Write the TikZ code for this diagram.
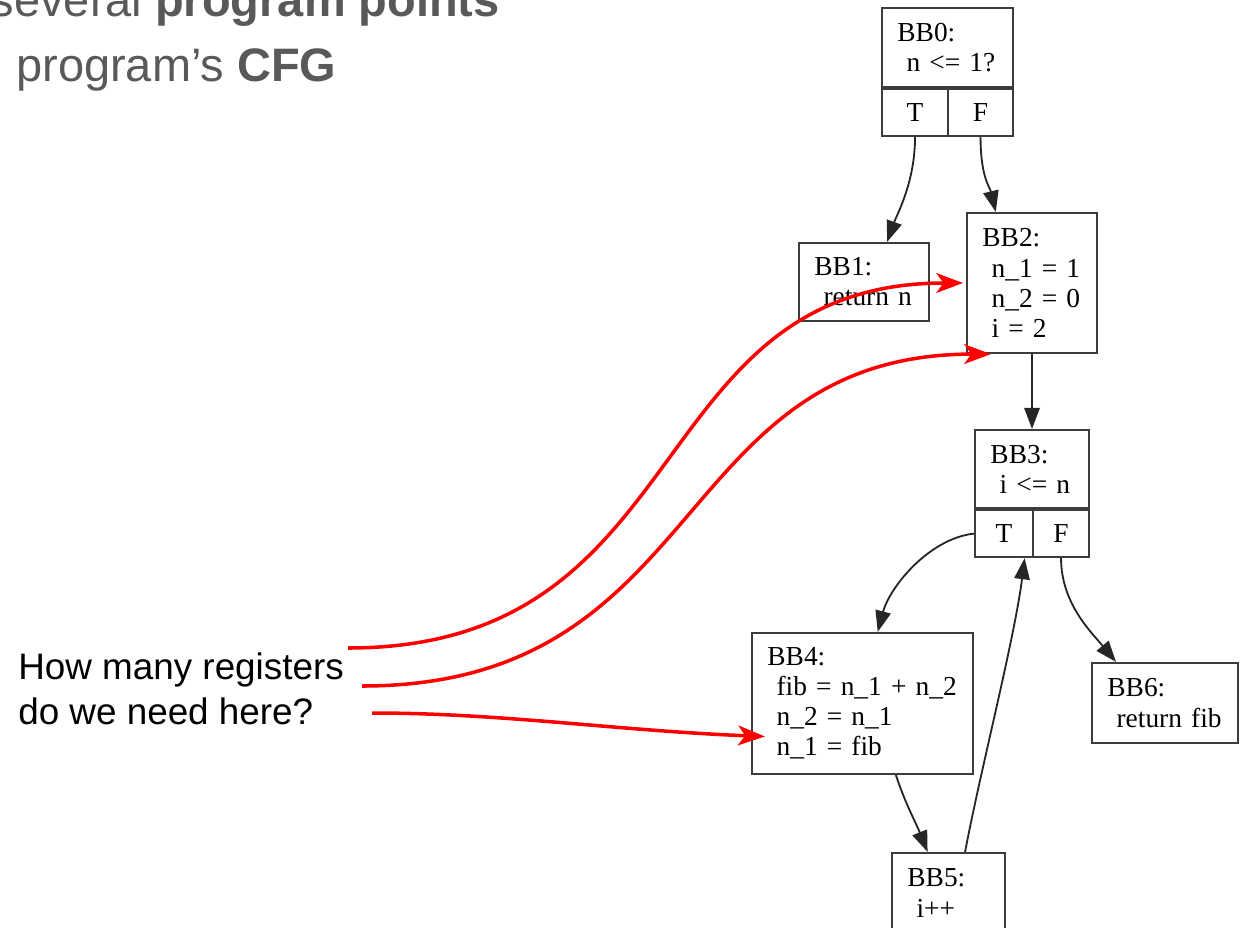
\documentclass[tikz,border=0pt]{standalone}
\usepackage{fontspec}
\setmainfont{Liberation Sans}
\newfontfamily\dotfont{Liberation Serif}
\usepackage{tikz}
\usetikzlibrary{arrows.meta,positioning,calc}
\definecolor{slidegray}{RGB}{89,89,89}
\definecolor{boxgray}{RGB}{60,60,60}
\newcommand{\bbfont}{\dotfont\fontsize{19.5}{21.4}\selectfont}
\tikzstyle{block} = [draw=boxgray, rectangle, line width=1.5pt, align=left,
    inner xsep=11pt, inner ysep=0pt, font=\bbfont, text=black]
\tikzstyle{cell} = [draw=boxgray, rectangle, line width=1.5pt, minimum height=33.4pt,
    inner sep=0pt, font=\bbfont, text=black]
\tikzstyle{edge} = [draw=black!85, line width=1.3pt, -{Triangle[length=15pt,width=11pt]}]
\tikzstyle{hint} = [draw=red, line width=2.5pt, -{Stealth[length=19pt,width=14pt,inset=5pt]}]

\begin{document}
\begin{tikzpicture}[x=0.025cm, y=-0.025cm]
    \useasboundingbox (0,0) rectangle (1241,927);
    % slide text
    \node [anchor=base east, inner sep=0, text=slidegray, font=\fontsize{33.4}{40}\selectfont] (title1) at (500,16) {several \textbf{program points}};
    \node [anchor=base west, inner sep=0, text=slidegray, font=\fontsize{33.4}{40}\selectfont] (title2) at (16,81) {program’s \textbf{CFG}};
    \node [anchor=north west, inner sep=0, align=left, font=\fontsize{26.2}{31.3}\selectfont] (ask) at (18,653) {How many registers\\do we need here?};

    % the CFG
    \node at (947.5,47.5) [block, text width=71.2pt, minimum height=56.2pt] (bb0) {BB0:\\~n~<=~1?};
    \node [cell, below=0pt of bb0.south west, anchor=north west, minimum width=47pt] (bb0t) {T};
    \node [cell, below=0pt of bb0.south east, anchor=north east, minimum width=46.2pt] (bb0f) {F};
    \node at (864,282) [block, text width=70.5pt, minimum height=55.5pt] (bb1) {BB1:\\~return~n};
    \node at (1032,283) [block, text width=70.5pt, minimum height=99.6pt] (bb2) {BB2:\\~n\_1~=~1\\~n\_2~=~0\\~i~=~2};
    \node at (1032,469) [block, text width=59.1pt, minimum height=55.5pt] (bb3) {BB3:\\~i~<=~n};
    \node [cell, below=0pt of bb3.south west, anchor=north west, minimum width=41.3pt] (bb3t) {T};
    \node [cell, below=0pt of bb3.south east, anchor=north east, minimum width=39.8pt] (bb3f) {F};
    \node at (862.5,703.5) [block, text width=135.2pt, minimum height=100.3pt] (bb4) {BB4:\\~fib~=~n\_1~+~n\_2\\~n\_2~=~n\_1\\~n\_1~=~fib};
    \node at (1165,703) [block, text width=81.9pt, minimum height=56.9pt] (bb6) {BB6:\\~return~fib};
    \node at (948.5,893) [block, text width=58.4pt, minimum height=56.9pt] (bb5) {BB5:\\~i++};

    \draw [edge] (bb0t.south) .. controls +(0,45) and +(10,-28) .. (bb1.60);
    \draw [edge] (bb0f.south) .. controls +(0,40) and +(-6,-25) .. (bb2.117);
    \draw [edge] (bb2.south) -- (bb3.north);
    \draw [edge] (bb3t.west) .. controls +(-45,5) and +(12,-45) .. (bb4.78);
    \draw [edge] (bb3f.south) .. controls +(0,45) and +(-25,-30) .. (bb6.140);
    \draw [edge] (bb4.-65) .. controls +(10,30) and +(-12,-30) .. (bb5.117);
    \draw [edge] (bb5.68) .. controls +(15,-80) and +(-10,80) .. (bb3t.-50);

    % pointers from the question
    \coordinate (q1) at (348,648);
    \coordinate (q2) at (362,686);
    \coordinate (q3) at (372,713);
    \draw [hint, shorten >=2pt] (q1) .. controls +(352,0) and +(-327,0) .. (bb2.west);
    \draw [hint] (q2) .. controls +(348,0) and +(-322,0) .. (bb2.-120);
    \draw [hint] (q3) .. controls +(130,0) and +(-150,-6) .. ($(bb4.west)+(14,33)$);
\end{tikzpicture}
\end{document}
